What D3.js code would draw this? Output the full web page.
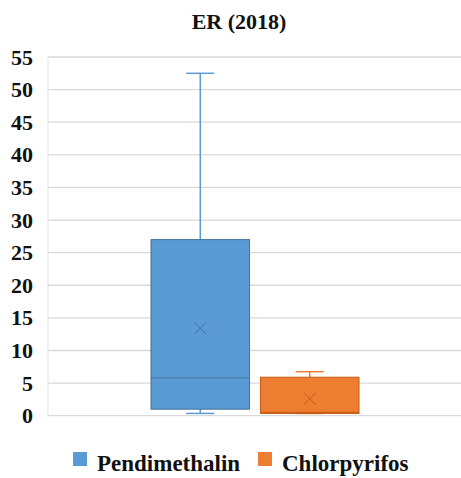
<!DOCTYPE html>
<html>
<head>
<meta charset="utf-8">
<script src="https://cdn.jsdelivr.net/npm/d3@7"></script>
<style>
  body { margin: 0; background: #fff; }
  svg { display: block; }
</style>
</head>
<body>
<svg id="chart" width="461" height="478"></svg>
<script>
// values
var series = ["Pendimethalin", "Chlorpyrifos"];
var colors = ["#5b9bd5", "#ed7d31"];
var strokes = ["#41719c", "#c55a11"];
var mins = [0.35, 0.35];
var q1s = [1.0, 0.35];
var medians = [5.8, 0.5];
var q3s = [27.0, 5.9];
var maxs = [52.5, 6.75];
var means = [13.4, 2.6];
var yTicks = [0, 5, 10, 15, 20, 25, 30, 35, 40, 45, 50, 55];

var fontFam = "'Liberation Serif', 'Times New Roman', monospace";

var svg = d3.select("#chart");
var margin = {top: 57, right: 0, bottom: 62, left: 48};
var width = 461, height = 478;

var y = d3.scaleLinear()
    .domain([0, 55])
    .range([height - margin.bottom - 0.3, margin.top]);

var x = d3.scaleBand()
    .domain(series)
    .range([151, 359])
    .paddingInner(0.1);

// gridlines
svg.append("g")
    .selectAll("line")
    .data(yTicks)
    .enter()
    .append("line")
    .attr("x1", margin.left)
    .attr("x2", width - margin.right)
    .attr("y1", function(d) { return y(d); })
    .attr("y2", function(d) { return y(d); })
    .attr("stroke", "#d9d9d9")
    .attr("stroke-width", 1.3);

// left edge line of plot
svg.append("line")
    .attr("x1", margin.left).attr("x2", margin.left)
    .attr("y1", y(55)).attr("y2", y(0))
    .attr("stroke", "#e4e4e4");

var yAxis = d3.axisLeft(y)
    .tickValues(yTicks)
    .tickSize(0)
    .tickPadding(15);

svg.append("g")
    .attr("transform", "translate(" + margin.left + ",0)")
    .call(yAxis)
    .attr("font-family", null)
    .attr("font-size", null)
    .call(function(g) { g.select(".domain").remove(); })
    .selectAll("text")
    .style("font-family", fontFam)
    .style("font-weight", "bold")
    .style("font-size", "22px")
    .attr("fill", "#111");

var data = series.map(function(s, i) {
    return {name: s, min: mins[i], q1: q1s[i], med: medians[i], q3: q3s[i], max: maxs[i], mean: means[i], fill: colors[i], stroke: strokes[i]};
});

var boxes = svg.append("g").selectAll("g")
    .data(data)
    .enter()
    .append("g");

var capW = 28;

// whiskers
boxes.append("line")
    .attr("x1", function(d) { return x(d.name) + x.bandwidth() / 2; })
    .attr("x2", function(d) { return x(d.name) + x.bandwidth() / 2; })
    .attr("y1", function(d) { return y(d.max); })
    .attr("y2", function(d) { return y(d.min); })
    .attr("stroke", function(d) { return d.fill; })
    .attr("stroke-width", 1.5);

boxes.append("line")
    .attr("x1", function(d) { return x(d.name) + x.bandwidth() / 2 - capW / 2; })
    .attr("x2", function(d) { return x(d.name) + x.bandwidth() / 2 + capW / 2; })
    .attr("y1", function(d) { return y(d.max); })
    .attr("y2", function(d) { return y(d.max); })
    .attr("stroke", function(d) { return d.fill; })
    .attr("stroke-width", 1.5);

boxes.append("line")
    .attr("x1", function(d) { return x(d.name) + x.bandwidth() / 2 - capW / 2; })
    .attr("x2", function(d) { return x(d.name) + x.bandwidth() / 2 + capW / 2; })
    .attr("y1", function(d) { return y(d.min); })
    .attr("y2", function(d) { return y(d.min); })
    .attr("stroke", function(d) { return d.fill; })
    .attr("stroke-width", 1.5);

// box
boxes.append("rect")
    .attr("x", function(d) { return x(d.name); })
    .attr("width", x.bandwidth())
    .attr("y", function(d) { return y(d.q3); })
    .attr("height", function(d) { return y(d.q1) - y(d.q3); })
    .attr("fill", function(d) { return d.fill; })
    .attr("stroke", function(d) { return d.stroke; })
    .attr("stroke-width", 1);

// median
boxes.append("line")
    .attr("x1", function(d) { return x(d.name); })
    .attr("x2", function(d) { return x(d.name) + x.bandwidth(); })
    .attr("y1", function(d) { return y(d.med); })
    .attr("y2", function(d) { return y(d.med); })
    .attr("stroke", function(d) { return d.stroke; })
    .attr("stroke-width", 1);

// mean marker (x)
var m = 6;
boxes.append("path")
    .attr("d", function(d) {
        var cx = x(d.name) + x.bandwidth() / 2, cy = y(d.mean);
        return "M" + (cx - m) + "," + (cy - m) + "L" + (cx + m) + "," + (cy + m) +
               "M" + (cx - m) + "," + (cy + m) + "L" + (cx + m) + "," + (cy - m);
    })
    .attr("stroke", function(d) { return d.stroke; })
    .attr("stroke-width", 1);

// title
svg.append("text")
    .attr("x", 239)
    .attr("y", 29)
    .attr("text-anchor", "middle")
    .style("font-family", fontFam)
    .style("font-weight", "bold")
    .style("font-size", "22px")
    .attr("fill", "#111")
    .text("ER (2018)");

// legend
var legendX = [73, 258];
var legend = svg.append("g").selectAll("g")
    .data(data)
    .enter()
    .append("g")
    .attr("transform", function(d, i) { return "translate(" + legendX[i] + ",452)"; });

legend.append("rect")
    .attr("width", 14)
    .attr("height", 14)
    .attr("fill", function(d) { return d.fill; });

legend.append("text")
    .attr("x", 24)
    .attr("y", 19)
    .style("font-family", fontFam)
    .style("font-weight", "bold")
    .style("font-size", "23px")
    .attr("fill", "#111")
    .text(function(d) { return d.name; });
</script>
</body>
</html>
